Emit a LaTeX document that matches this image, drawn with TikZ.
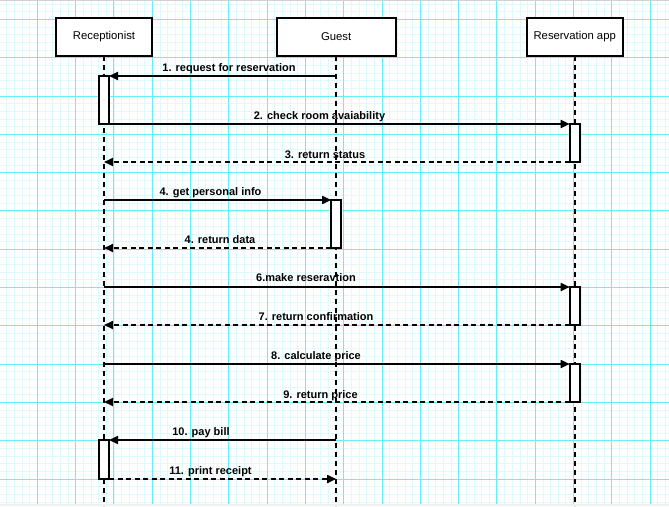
\documentclass[tikz,border=0pt]{standalone}
\usepackage{fontspec}
\setmainfont{Liberation Sans}
\usetikzlibrary{arrows.meta}
\definecolor{gridminor}{RGB}{222,250,252}
\definecolor{gridmajor}{RGB}{100,240,244}
\begin{document}
\begin{tikzpicture}[x=1pt,y=-1pt,
  actor/.style={draw=black,line width=1.8pt,fill=white,minimum height=38pt,inner sep=0pt,
    outer sep=0pt,font=\fontsize{11.3}{13}\selectfont},
  actbar/.style={draw=black,line width=1.7pt,fill=white,minimum width=10pt,inner sep=0pt,outer sep=0pt},
  lifeline/.style={line width=1.8pt,dash pattern=on 5pt off 4pt},
  msg/.style={line width=1.7pt,-{Triangle[length=9pt,width=8pt]}},
  ret/.style={msg,dash pattern=on 5pt off 3.5pt},
  lbl/.style={font=\bfseries\fontsize{11}{13}\selectfont,inner sep=0pt,anchor=base}]
\useasboundingbox (0,0) rectangle (669,506);
\begin{scope}
  \clip (0,0) rectangle (669,506);
  \fill[white] (0,0) rectangle (669,506);
  % background grid
  \foreach \i in {0,...,90} {
    \pgfmathsetmacro{\gx}{-1+7.66*\i}
    \draw[gridminor,line width=0.7pt] (\gx,0) -- (\gx,506);
  }
  \foreach \i in {0,...,70} {
    \pgfmathsetmacro{\gy}{-18.9+7.66*\i}
    \draw[gridminor,line width=0.7pt] (0,\gy) -- (669,\gy);
  }
  \foreach \i in {0,...,18} {
    \pgfmathsetmacro{\gx}{-1+38.3*\i}
    \draw[gridmajor,line width=0.9pt] (\gx,0) -- (\gx,506);
  }
  \foreach \i in {0,...,14} {
    \pgfmathsetmacro{\gy}{-18.9+38.3*\i}
    \draw[gridmajor,line width=0.9pt] (0,\gy) -- (669,\gy);
  }
  \draw[gray!35,line width=1pt] (0,0.8) -- (669,0.8);
  \draw[gray!12,line width=2pt] (0,505) -- (669,505);
\end{scope}

% participants
\node[actor,minimum width=96pt]  (rec) at (104,37)   {Receptionist};
\node[actor,minimum width=119pt] (gst) at (336.2,37) {Guest};
\node[actor,minimum width=96pt]  (app) at (574.7,37) {Reservation app};

% lifeline ends
\coordinate (recEnd) at (104,506);
\coordinate (gstEnd) at (336.2,506);
\coordinate (appEnd) at (574.7,506);

\draw[lifeline] (rec.south) -- (recEnd);
\draw[lifeline] (gst.south) -- (gstEnd);
\draw[lifeline] (app.south) -- (appEnd);

% activation bars
\node[actbar,minimum height=48pt] (recA) at (104,100)   {};
\node[actbar,minimum height=38pt] (appA) at (574.7,143) {};
\node[actbar,minimum height=48pt] (gstA) at (336.2,224) {};
\node[actbar,minimum height=38pt] (appB) at (574.7,306) {};
\node[actbar,minimum height=38pt] (appC) at (574.7,383) {};
\node[actbar,minimum height=39pt] (recB) at (104,459.5) {};

% messages
\draw[msg] (recA.north east -| gst) -- (recA.north east);
\node[lbl] (m1) at (229,71) {1. request for reservation};

\draw[msg] (recA.south east) -- (appA.north west);
\node[lbl] (m2) at (319.5,119) {2. check room avaiability};

\draw[ret] (appA.south west) -- (appA.south west -| rec);
\node[lbl] (m3) at (325,158) {3. return status};

\draw[msg] (gstA.north west -| rec) -- (gstA.north west);
\node[lbl] (m4) at (210.5,195.5) {4. get personal info};

\draw[ret] (gstA.south west) -- (gstA.south west -| rec);
\node[lbl] (m5) at (220,243.5) {4. return data};

\draw[msg] (appB.north west -| rec) -- (appB.north west);
\node[lbl] (m6) at (306,281.5) {6.make reseravtion};

\draw[ret] (appB.south west) -- (appB.south west -| rec);
\node[lbl] (m7) at (316,320.5) {7. return confirmation};

\draw[msg] (appC.north west -| rec) -- (appC.north west);
\node[lbl] (m8) at (316,359) {8. calculate price};

\draw[ret] (appC.south west) -- (appC.south west -| rec);
\node[lbl] (m9) at (320.5,398) {9. return price};

\draw[msg] (recB.north east -| gst) -- (recB.north east);
\node[lbl] (m10) at (201,435.5) {10. pay bill};

\draw[ret] (recB.south east) -- (recB.south east -| gst);
\node[lbl] (m11) at (210.5,474.5) {11. print receipt};
\end{tikzpicture}
\end{document}
